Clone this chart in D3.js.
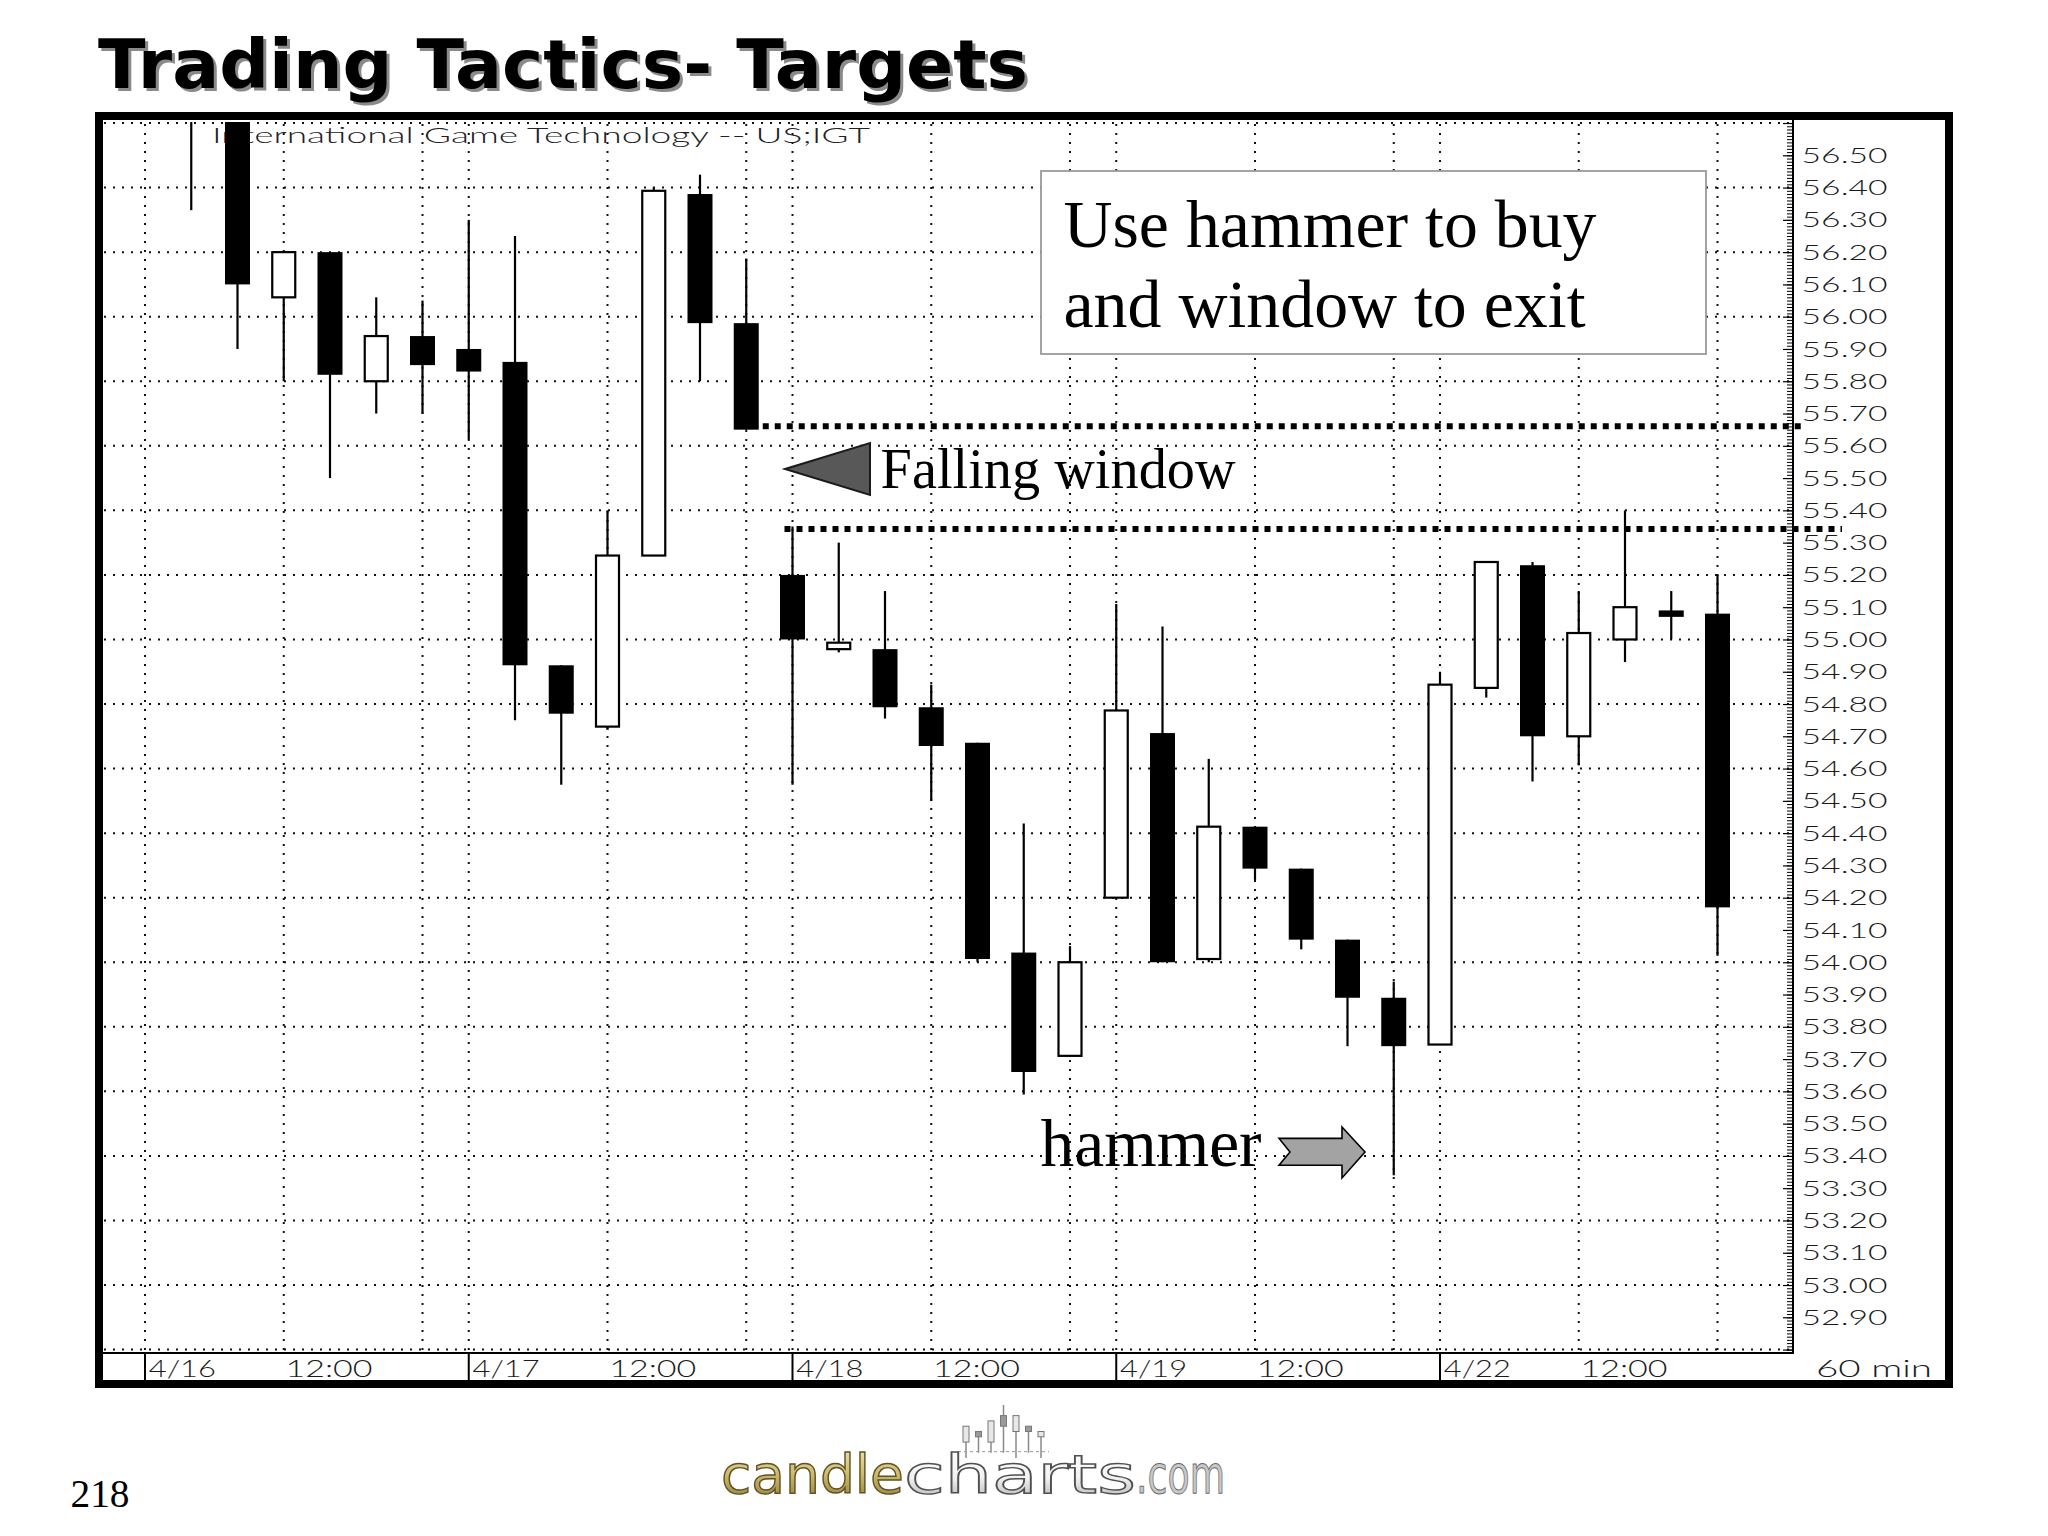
<!DOCTYPE html>
<html>
<head>
<meta charset="utf-8">
<script src="https://cdn.jsdelivr.net/npm/d3@7"></script>
<style>
  html, body { margin: 0; padding: 0; background: #fff; }
  svg { display: block; }
</style>
</head>
<body>
<script>
// ---------------- DATA ----------------
const days = ["4/16", "4/17", "4/18", "4/19", "4/22"];
const hours = ["9:00", "10:00", "11:00", "12:00", "13:00", "14:00", "15:00"];
// hourly bar slot index (7 per day, slot 0 = first bar of 4/16)
const barIndex = [1, 2, 3, 4, 5, 6, 7, 8, 9, 10, 11, 12, 13, 14, 15, 16, 17,
                  18, 19, 20, 21, 22, 23, 24, 25, 26, 27, 28, 29, 30, 31, 32, 33, 34];
const openP  = [56.72, 56.72, 56.06, 56.20, 55.80, 55.94, 55.90, 55.86, 54.92, 54.73, 55.26, 56.38, 55.98,
                55.20, 54.97, 54.97, 54.79, 54.68, 54.03, 53.71, 54.20, 54.71, 54.01, 54.42, 54.29, 54.07,
                53.89, 53.745, 54.85, 55.23, 54.70, 55.00, 55.09, 55.08];
const highP  = [56.80, 56.80, 56.20, 56.20, 56.06, 56.05, 56.30, 56.25, 54.92, 55.40, 56.40, 56.44, 56.18,
                55.35, 55.30, 55.15, 54.86, 54.68, 54.43, 54.05, 55.11, 55.04, 54.63, 54.42, 54.29, 54.07,
                53.94, 54.90, 55.24, 55.24, 55.15, 55.40, 55.15, 55.20];
const lowP   = [56.33, 55.90, 55.80, 55.50, 55.70, 55.70, 55.62, 54.75, 54.55, 54.72, 55.26, 55.80, 55.65,
                54.55, 54.96, 54.755, 54.50, 54.00, 53.59, 53.71, 54.20, 54.00, 54.00, 54.255, 54.04, 53.74,
                53.34, 53.745, 54.82, 54.56, 54.61, 54.93, 55.00, 54.02];
const closeP = [56.70, 56.10, 56.20, 55.82, 55.94, 55.85, 55.83, 54.92, 54.77, 55.26, 56.39, 55.98, 55.65,
                55.00, 54.99, 54.79, 54.67, 54.01, 53.66, 54.00, 54.78, 54.00, 54.42, 54.29, 54.07, 53.89,
                53.74, 54.86, 55.24, 54.70, 55.02, 55.10, 55.07, 54.17];
// y axis labels
const priceLabels = d3.range(529, 566).map(k => k / 10);   // 52.90 .. 56.50
// falling window: low of bar 13 and high of bar 14
const windowTop = 55.65;
const windowBottom = 55.35;
// small logo candles (decorative, arbitrary units)
const logoOpen  = [3, 4, 3, 6, 5, 5, 4];
const logoClose = [6, 5, 7, 8, 8, 6, 5];
const logoHigh  = [6, 4, 5, 10, 8, 6, 4];
const logoLow   = [0, 1, 1, 1, 0, 1, 0];

// ---------------- LAYOUT ----------------
const W = 2048, H = 1536;
const plot = { left: 102, right: 1793, top: 120, bottom: 1353 };
const thinFont = "Lato, 'Liberation Sans', Arial, sans-serif";

const svg = d3.select("body").append("svg")
  .attr("width", W).attr("height", H)
  .attr("viewBox", `0 0 ${W} ${H}`);

svg.append("rect").attr("width", W).attr("height", H).attr("fill", "#fff");

const x = d3.scaleLinear().domain([0, 34]).range([145, 1717.5]);
const y = d3.scaleLinear().domain([52.9, 56.5]).range([1317.3, 155.3]);

const defs = svg.append("defs");
defs.append("clipPath").attr("id", "plotClip")
  .append("rect")
  .attr("x", plot.left).attr("y", plot.top + 2)
  .attr("width", plot.right - plot.left).attr("height", plot.bottom - plot.top - 2);

// ---------------- TITLE ----------------
const titleText = "Trading Tactics- Targets";
svg.append("text")
  .attr("x", 101).attr("y", 91)
  .attr("font-family", "'DejaVu Sans', Verdana, sans-serif")
  .attr("font-weight", "bold").attr("font-size", 68)
  .attr("textLength", 930).attr("lengthAdjust", "spacingAndGlyphs")
  .attr("fill", "#8a8a8a").text(titleText);
svg.append("text")
  .attr("x", 98).attr("y", 88)
  .attr("font-family", "'DejaVu Sans', Verdana, sans-serif")
  .attr("font-weight", "bold").attr("font-size", 68)
  .attr("textLength", 930).attr("lengthAdjust", "spacingAndGlyphs")
  .attr("fill", "#000").text(titleText);

// ---------------- GRID ----------------
const gridG = svg.append("g");
const hGrid = d3.range(264, 284).map(k => k / 5); // 52.8 .. 56.6 every 0.2
gridG.selectAll("line.h").data(hGrid).join("line")
  .attr("x1", plot.left + 2).attr("x2", plot.right)
  .attr("y1", d => y(d)).attr("y2", d => y(d))
  .attr("stroke", "#111").attr("stroke-width", 2)
  .attr("stroke-dasharray", "2,7");

const vGrid = [];
days.forEach((d, i) => { vGrid.push(i * 7, i * 7 + 3, i * 7 + 6); });
gridG.selectAll("line.v").data(vGrid).join("line")
  .attr("x1", d => x(d)).attr("x2", d => x(d))
  .attr("y1", plot.top + 4).attr("y2", plot.bottom - 2)
  .attr("stroke", "#111").attr("stroke-width", 2)
  .attr("stroke-dasharray", "2,7");

// ---------------- SUBTITLE ----------------
svg.append("text")
  .attr("x", 212).attr("y", 143)
  .attr("font-family", thinFont).attr("font-weight", 300)
  .attr("font-size", 22)
  .attr("textLength", 658).attr("lengthAdjust", "spacingAndGlyphs")
  .attr("fill", "#222")
  .text("International  Game  Technology  --  US;IGT");

// ---------------- TEXT BOX ----------------
svg.append("rect")
  .attr("x", 1041).attr("y", 171).attr("width", 665).attr("height", 183)
  .attr("fill", "#fff").attr("stroke", "#9a9a9a").attr("stroke-width", 1.8);
svg.append("text").attr("x", 1063.5).attr("y", 247.3)
  .attr("font-family", "'Liberation Serif', 'Times New Roman', serif")
  .attr("font-size", 68).attr("textLength", 533).attr("lengthAdjust", "spacingAndGlyphs")
  .attr("fill", "#000").text("Use hammer to buy");
svg.append("text").attr("x", 1063.5).attr("y", 327.3)
  .attr("font-family", "'Liberation Serif', 'Times New Roman', serif")
  .attr("font-size", 68).attr("textLength", 522).attr("lengthAdjust", "spacingAndGlyphs")
  .attr("fill", "#000").text("and window to exit");

// ---------------- CANDLES ----------------
const bars = barIndex.map((idx, i) => ({
  idx, o: openP[i], h: highP[i], l: lowP[i], c: closeP[i]
}));
const cg = svg.append("g").attr("clip-path", "url(#plotClip)");
const bodyW = 25;
cg.selectAll("line.wick").data(bars).join("line")
  .attr("x1", d => x(d.idx)).attr("x2", d => x(d.idx))
  .attr("y1", d => y(d.h)).attr("y2", d => y(d.l))
  .attr("stroke", "#000").attr("stroke-width", 2.2);
cg.selectAll("rect.body").data(bars).join("rect")
  .attr("x", d => x(d.idx) - bodyW / 2 + (d.c >= d.o ? 1 : 0))
  .attr("width", d => d.c >= d.o ? bodyW - 2 : bodyW)
  .attr("y", d => y(Math.max(d.o, d.c)))
  .attr("height", d => Math.max(Math.abs(y(d.o) - y(d.c)), 3))
  .attr("fill", d => d.c >= d.o ? "#fff" : "#000")
  .attr("stroke", "#000")
  .attr("stroke-width", d => d.c >= d.o ? 2.2 : 0);

// ---------------- AXES ----------------
// y axis minor / major ticks
const axG = svg.append("g").attr("transform", `translate(${plot.right},0)`);
axG.call(d3.axisLeft(y)
  .tickValues(d3.range(5280, 5661).map(k => k / 100))
  .tickSize(6).tickFormat(""))
  .call(g => g.select(".domain").remove())
  .call(g => g.selectAll(".tick line").attr("stroke", "#000").attr("stroke-width", 1));
const axG2 = svg.append("g").attr("transform", `translate(${plot.right},0)`);
axG2.call(d3.axisLeft(y)
  .tickValues(d3.range(528, 567).map(k => k / 10))
  .tickSize(10).tickFormat(""))
  .call(g => g.select(".domain").remove())
  .call(g => g.selectAll(".tick line").attr("stroke", "#000").attr("stroke-width", 1.2));

// y axis labels
const ylab = svg.append("g").attr("transform", `translate(${plot.right},0)`);
ylab.call(d3.axisRight(y).tickValues(priceLabels).tickSize(0).tickPadding(8.6)
  .tickFormat(d3.format(".2f")))
  .call(g => g.select(".domain").remove())
  .call(g => g.selectAll(".tick text")
    .attr("font-family", thinFont).attr("font-weight", 300)
    .attr("font-size", 22).attr("fill", "#1a1a1a")
    .attr("textLength", 86).attr("lengthAdjust", "spacingAndGlyphs"));

// axis frame lines
svg.append("line").attr("x1", plot.right).attr("x2", plot.right)
  .attr("y1", plot.top).attr("y2", plot.bottom + 1)
  .attr("stroke", "#000").attr("stroke-width", 2);
svg.append("line").attr("x1", plot.left).attr("x2", plot.right + 1)
  .attr("y1", plot.bottom).attr("y2", plot.bottom)
  .attr("stroke", "#000").attr("stroke-width", 2);

// x axis labels
const xTickVals = [];
days.forEach((d, i) => { xTickVals.push(i * 7, i * 7 + 3); });
const xlab = svg.append("g").attr("transform", `translate(0,${plot.bottom})`);
xlab.call(d3.axisBottom(x).tickValues(xTickVals).tickSize(0).tickPadding(0)
  .tickFormat(d => d % 7 === 0 ? days[d / 7] : hours[d % 7]))
  .call(g => g.select(".domain").remove())
  .call(g => g.selectAll(".tick text")
    .attr("text-anchor", "start")
    .attr("x", d => d % 7 === 0 ? 3.3 : 1.3)
    .attr("y", 24).attr("dy", 0)
    .attr("font-family", thinFont).attr("font-weight", 300)
    .attr("font-size", 23).attr("fill", "#1a1a1a")
    .attr("textLength", d => d % 7 === 0 ? 67 : 87)
    .attr("lengthAdjust", "spacingAndGlyphs"));
// day separators in the date strip
svg.selectAll("line.daysep").data(days.map((d, i) => i * 7)).join("line")
  .attr("x1", d => x(d)).attr("x2", d => x(d))
  .attr("y1", plot.bottom).attr("y2", 1381)
  .attr("stroke", "#000").attr("stroke-width", 2);
svg.append("text").attr("x", 1816).attr("y", 1377)
  .attr("font-family", thinFont).attr("font-weight", 300)
  .attr("font-size", 23).attr("fill", "#1a1a1a")
  .attr("textLength", 116).attr("lengthAdjust", "spacingAndGlyphs")
  .text("60  min");

// ---------------- FALLING WINDOW LINES ----------------
svg.append("line")
  .attr("x1", x(13) + bodyW / 2 + 4).attr("x2", 1806)
  .attr("y1", y(windowTop) - 3.5).attr("y2", y(windowTop) - 3.5)
  .attr("stroke", "#000").attr("stroke-width", 6).attr("stroke-dasharray", "6,6");
svg.append("line")
  .attr("x1", x(14) - 8).attr("x2", 1842)
  .attr("y1", y(windowBottom) + 2.5).attr("y2", y(windowBottom) + 2.5)
  .attr("stroke", "#000").attr("stroke-width", 6).attr("stroke-dasharray", "6,6");

// ---------------- ANNOTATIONS ----------------
svg.append("polygon")
  .attr("points", "785,469 870,443 870,495")
  .attr("fill", "#585858").attr("stroke", "#1a1a1a").attr("stroke-width", 2);
svg.append("text").attr("x", 880.6).attr("y", 488.3)
  .attr("font-family", "'Liberation Serif', 'Times New Roman', serif")
  .attr("font-size", 57).attr("textLength", 355).attr("lengthAdjust", "spacingAndGlyphs")
  .attr("fill", "#000").text("Falling window");

svg.append("text").attr("x", 1040.6).attr("y", 1166)
  .attr("font-family", "'Liberation Serif', 'Times New Roman', serif")
  .attr("font-size", 67).attr("textLength", 221).attr("lengthAdjust", "spacingAndGlyphs")
  .attr("fill", "#000").text("hammer");
svg.append("polygon")
  .attr("points", "1279,1138.4 1342,1138.4 1342,1127 1365,1152 1342,1178 1342,1165.2 1279,1165.2 1290,1152")
  .attr("fill", "#a3a3a3").attr("stroke", "#000").attr("stroke-width", 1.6);

// ---------------- OUTER FRAME ----------------
svg.append("rect")
  .attr("x", 99).attr("y", 116).attr("width", 1850).attr("height", 1268)
  .attr("fill", "none").attr("stroke", "#000").attr("stroke-width", 8);

// ---------------- FOOTER ----------------
svg.append("text").attr("x", 70.5).attr("y", 1507)
  .attr("font-family", "'Liberation Serif', 'Times New Roman', serif")
  .attr("font-size", 40).attr("textLength", 59).attr("lengthAdjust", "spacingAndGlyphs")
  .attr("fill", "#000").text("218");

const gGold = defs.append("linearGradient").attr("id", "gold")
  .attr("x1", 0).attr("y1", 0).attr("x2", 0).attr("y2", 1);
gGold.append("stop").attr("offset", "0%").attr("stop-color", "#f3ebc0");
gGold.append("stop").attr("offset", "50%").attr("stop-color", "#cdb96a");
gGold.append("stop").attr("offset", "100%").attr("stop-color", "#8c7632");
const gSilver = defs.append("linearGradient").attr("id", "silver")
  .attr("x1", 0).attr("y1", 0).attr("x2", 0).attr("y2", 1);
gSilver.append("stop").attr("offset", "0%").attr("stop-color", "#ffffff");
gSilver.append("stop").attr("offset", "55%").attr("stop-color", "#f2f2f2");
gSilver.append("stop").attr("offset", "100%").attr("stop-color", "#a8a8a8");

// logo candles
const lx = d3.scaleLinear().domain([0, 6]).range([966, 1041]);
const ly = d3.scaleLinear().domain([0, 10]).range([1458, 1405]);
const logoG = svg.append("g");
const logoBars = logoOpen.map((o, i) => ({ i, o, c: logoClose[i], h: logoHigh[i], l: logoLow[i] }));
logoG.selectAll("line").data(logoBars).join("line")
  .attr("x1", d => lx(d.i)).attr("x2", d => lx(d.i))
  .attr("y1", d => ly(Math.max(d.h, d.c))).attr("y2", d => ly(d.l))
  .attr("stroke", "#8a8a8a").attr("stroke-width", 1.5);
logoG.selectAll("rect").data(logoBars).join("rect")
  .attr("x", d => lx(d.i) - 3).attr("width", 6)
  .attr("y", d => ly(Math.max(d.o, d.c)))
  .attr("height", d => Math.abs(ly(d.o) - ly(d.c)))
  .attr("fill", (d, i) => i % 2 ? "#9a9a9a" : "#e8e8e8")
  .attr("stroke", "#777").attr("stroke-width", 1);
logoG.append("line").attr("x1", lx(0) - 8).attr("x2", lx(6) + 8)
  .attr("y1", ly(1.2)).attr("y2", ly(1.2))
  .attr("stroke", "#999").attr("stroke-width", 1).attr("stroke-dasharray", "3,3");

const logoFont = "'DejaVu Sans', Verdana, sans-serif";
svg.append("text").attr("x", 721).attr("y", 1493)
  .attr("font-family", logoFont).attr("font-size", 54)
  .attr("textLength", 183).attr("lengthAdjust", "spacingAndGlyphs")
  .attr("fill", "url(#gold)").attr("stroke", "#5e5226").attr("stroke-width", 1.4)
  .text("candle");
svg.append("text").attr("x", 904).attr("y", 1493)
  .attr("font-family", logoFont).attr("font-size", 54)
  .attr("textLength", 232).attr("lengthAdjust", "spacingAndGlyphs")
  .attr("fill", "url(#silver)").attr("stroke", "#505050").attr("stroke-width", 1.4)
  .text("charts");
svg.append("text").attr("x", 1136).attr("y", 1493)
  .attr("font-family", logoFont).attr("font-size", 54)
  .attr("textLength", 89).attr("lengthAdjust", "spacingAndGlyphs")
  .attr("fill", "#c8c8c8").attr("stroke", "#6a6a6a").attr("stroke-width", 1)
  .text(".com");
</script>
</body>
</html>
